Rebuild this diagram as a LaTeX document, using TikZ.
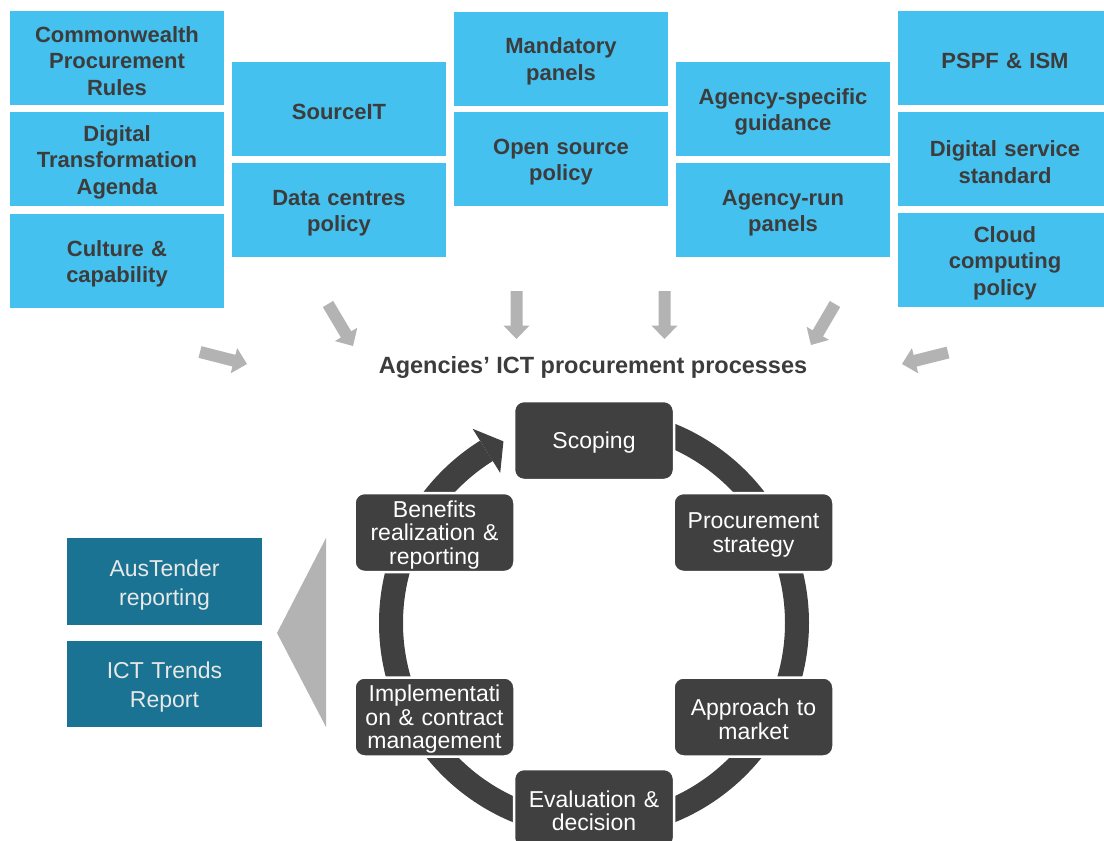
\documentclass[tikz,border=0pt]{standalone}
\usepackage{fontspec}
\setmainfont{Liberation Sans}
\usetikzlibrary{calc}
\definecolor{skyb}{RGB}{69,193,239}
\definecolor{txtdark}{RGB}{60,60,60}
\definecolor{cyc}{RGB}{64,64,64}
\definecolor{tealbox}{RGB}{26,115,146}
\definecolor{agray}{RGB}{179,179,179}
\definecolor{lighttxt}{RGB}{232,232,232}
\tikzset{
 lowertext/.style={execute at begin node={\rule{0pt}{#1}}},
 topbox/.style={fill=skyb, minimum width=214pt, minimum height=94pt, inner sep=0pt, text width=210pt, align=center, text=txtdark, font=\fontsize{22}{26.5}\selectfont\bfseries, lowertext=22pt},
 cycbox/.style={fill=cyc, draw=white, line width=2.5pt, rounded corners=10pt, minimum width=160pt, minimum height=79pt, inner sep=0pt, text width=156pt, align=center, text=white, font=\fontsize{23}{23.5}\selectfont, lowertext=21pt},
 repbox/.style={fill=tealbox, minimum width=195pt, inner sep=0pt, text width=190pt, align=center, text=lighttxt, font=\fontsize{23}{29}\selectfont, lowertext=23pt},
 ringband/.style={draw=cyc, line width=24pt},
 titlelbl/.style={text=txtdark, font=\fontsize{23.5}{26}\selectfont\bfseries, inner sep=0pt},
}
\newcommand{\garrow}[2]{%
 \coordinate (gaT) at (#1); \coordinate (gaH) at (#2);
 \coordinate (gaB) at ($(gaH)!13.5pt!(gaT)$);
 \fill[agray] ($(gaT)!6pt!90:(gaH)$) -- ($(gaB)!6pt!-90:(gaT)$) -- ($(gaB)!13pt!-90:(gaT)$) -- (gaH) -- ($(gaB)!13pt!90:(gaT)$) -- ($(gaB)!6pt!90:(gaT)$) -- ($(gaT)!6pt!-90:(gaH)$) -- cycle;}
\begin{document}
\begin{tikzpicture}[x=1pt,y=-1pt]
\useasboundingbox[fill=white] (0,0) rectangle (1104,841);
% top boxes
\node[topbox] (cpr) at (117,58) {Commonwealth\\Procurement\\Rules};
\node[topbox] (dta) at (117,159) {Digital\\Transformation\\Agenda};
\node[topbox] (cc) at (117,261) {Culture \&\\capability};
\node[topbox] (src) at (339,109) {SourceIT};
\node[topbox] (dcp) at (339,210) {Data centres\\policy};
\node[topbox] (mp) at (561,58.5) {Mandatory\\panels};
\node[topbox] (osp) at (561,159) {Open source\\policy};
\node[topbox] (asg) at (783,109) {Agency-specific\\guidance};
\node[topbox] (arp) at (783,210) {Agency-run\\panels};
\node[topbox] (pspf) at (1005,58) {PSPF \& ISM};
\node[topbox] (dss) at (1005,159) {Digital service\\standard};
\node[topbox] (ccp) at (1005,260) {Cloud\\computing\\policy};
% title
\node[titlelbl] (agp) at (593,367) {Agencies’ ICT procurement processes};
% gray block arrows
\garrow{200,352}{247,364}
\garrow{328,304}{353,346}
\garrow{516.5,291}{516.5,339}
\garrow{664.5,291}{664.5,339}
\garrow{835,304}{811,345}
\garrow{948,352.5}{902,364}
% ring
\coordinate (ctr) at (594,623);
\draw[ringband] ($(ctr)+(90:203pt)$) arc[start angle=90, end angle=-238, radius=203pt];
\fill[cyc] ($(ctr)+(122:229pt)$) -- ($(ctr)+(116.5:203pt)$) -- ($(ctr)+(122:177pt)$) -- cycle;
% cycle boxes
\node[cycbox] (sc) at (594,440.5) {Scoping};
\node[cycbox] (ps) at (753.5,532.5) {Procurement\\strategy};
\node[cycbox] (am) at (753.5,717) {Approach to\\market};
\node[cycbox] (ed) at (594,808.5) {Evaluation \&\\decision};
\node[cycbox] (im) at (434.5,717) {Implementati\\on \& contract\\management};
\node[cycbox] (br) at (434.5,532.5) {Benefits\\realization \&\\reporting};
% reporting boxes
\node[repbox, minimum height=87pt] (aus) at (164.5,581.5) {AusTender\\reporting};
\node[repbox, minimum height=86pt] (ict) at (164.5,684) {ICT Trends\\Report};
% gray triangle
\fill[agray] (277,633) -- (326,538) -- (326,727) -- cycle;
\end{tikzpicture}
\end{document}
